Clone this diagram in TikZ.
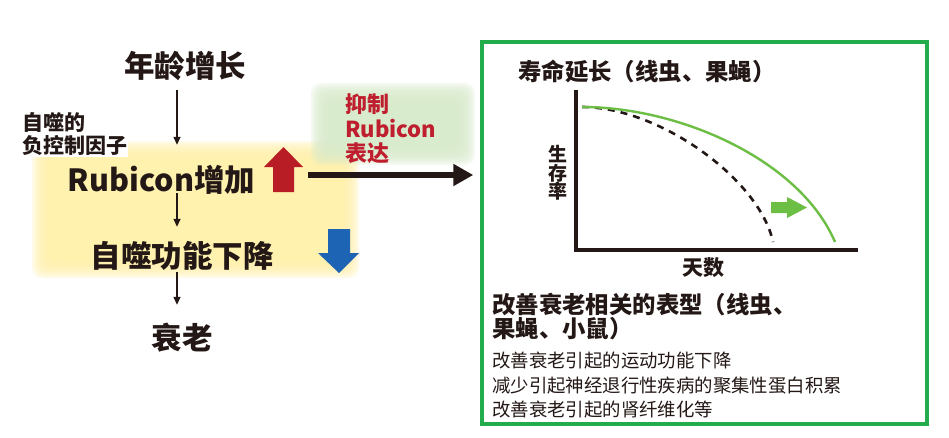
\documentclass[tikz,border=0pt]{standalone}
\usepackage{fontspec}
\setmainfont{Noto Sans CJK SC}
\usetikzlibrary{arrows.meta,calc}
\definecolor{ybg}{RGB}{255,241,172}
\definecolor{gbg}{RGB}{217,235,204}
\definecolor{rtxt}{RGB}{190,30,45}
\definecolor{uparrowc}{RGB}{184,28,36}
\definecolor{downarrowc}{RGB}{30,100,180}
\definecolor{gframe}{RGB}{34,172,76}
\definecolor{gcurve}{RGB}{109,190,69}
\definecolor{ink}{RGB}{35,24,21}
\begin{document}
\begin{tikzpicture}[x=1pt,y=-1pt,
  big/.style={font=\fontsize{30.5}{34}\selectfont\bfseries, inner sep=0pt, text=ink, text height=24pt, text depth=6pt},
  lbl/.style={font=\fontsize{21}{23}\selectfont\bfseries, inner sep=0pt, text=ink, align=left},
  redtxt/.style={font=\fontsize{22}{24.5}\selectfont\bfseries, inner sep=0pt, text=rtxt, align=left},
  ttl/.style={font=\fontsize{23.4}{24}\selectfont\bfseries, inner sep=0pt, text=ink, align=left},
  axlbl/.style={font=\fontsize{19}{18.5}\selectfont\bfseries, inner sep=0pt, text=ink, align=center},
  body/.style={font=\fontsize{18.4}{24.3}\selectfont, inner sep=0pt, text=ink, align=left},
  flow/.style={draw=ink, line width=1.4pt, -{Triangle[length=8pt,width=7pt]}},
  bigarrow/.style={draw=ink, line width=6pt, -{Triangle[length=20pt,width=21pt]}},
  framebox/.style={draw=gframe, line width=3.5pt, minimum width=445pt, minimum height=382pt, inner sep=0pt}
]
\useasboundingbox (0,0) rectangle (949,437);
\fill[white] (0,0) rectangle (949,437);

% soft yellow background
\foreach \i in {0,...,9}{
  \fill[ybg, opacity=0.26, rounded corners=10pt] (32+2*\i,141+2*\i) rectangle (359-2*\i,278-2*\i);
}
% soft green background
\foreach \i in {0,...,9}{
  \fill[gbg, opacity=0.25, rounded corners=10pt] (311+2*\i,83+2*\i) rectangle (475-2*\i,165-2*\i);
}

% left chain
\node[big] (age) at (185,68) {年龄增长};
\node[lbl, anchor=west, fill=white, inner sep=1pt] (neg) at (21,134) {自噬的\\负控制因子};
\node[big] (rub) at (161.5,182) {Rubicon增加};
\node[big] (auto) at (182,258) {自噬功能下降};
\node[big] (aging) at (182,340) {衰老};

\draw[flow] ([xshift=-8pt,yshift=-7pt]age.south) -- ([xshift=15.5pt,yshift=22pt]rub.north);
\draw[flow] ([xshift=15.5pt,yshift=4pt]rub.south) -- ([xshift=-5pt,yshift=16pt]auto.north);
\draw[flow] ([xshift=-5pt,yshift=1pt]auto.south) -- ([xshift=-5pt,yshift=20pt]aging.north);

% red up arrow, blue down arrow
\fill[uparrowc] (273,192) -- (273,167) -- (264,167) -- (283.5,147) -- (303,167) -- (294,167) -- (294,192) -- cycle;
\fill[downarrowc] (328,229) -- (350,229) -- (350,253) -- (359,253) -- (339,273) -- (318,253) -- (328,253) -- cycle;

% inhibit label
\node[redtxt, anchor=west] (inh) at (345,129) {抑制\\Rubicon\\表达};

% right frame
\node[framebox] (box) at (704.5,233) {};
\coordinate (bstart) at (308,175);
\draw[bigarrow] (bstart) -- ([xshift=-7pt]bstart -| box.west);

% survival plot
\node[ttl, anchor=west] (title) at (518,71) {寿命延长（线虫、果蝇）};
\coordinate (O) at (576,250);
\draw[ink, line width=3.5pt] (576,90) -- (O) -- (858,250);
\node[axlbl] (ylab) at (558,173) {生\\存\\率};
\node[font=\fontsize{21}{21}\selectfont\bfseries, inner sep=0pt, text=ink] (xlab) at (703,268) {天数};
\draw[ink, line width=2.6pt, dash pattern=on 7pt off 6pt] (582,107) .. controls (660,107) and (760,180) .. (773,242);
\draw[gcurve, line width=2.4pt] (582,107) .. controls (680,107) and (800,160) .. (835,242);
\fill[gcurve] (771,202) -- (787,202) -- (787,197) -- (807,207.5) -- (787,218) -- (787,213) -- (771,213) -- cycle;

% phenotype text
\node[ttl, anchor=north west] (pheno) at (492,293) {改善衰老相关的表型（线虫、\\果蝇、小鼠）};
\node[body, anchor=north west] (list) at (492,352) {改善衰老引起的运动功能下降\\减少引起神经退行性疾病的聚集性蛋白积累\\改善衰老引起的肾纤维化等};
\end{tikzpicture}
\end{document}
